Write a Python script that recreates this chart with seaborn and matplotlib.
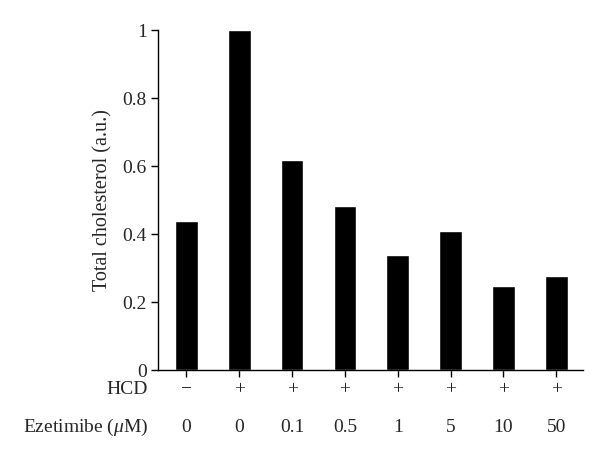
import matplotlib
matplotlib.use('Agg')
import matplotlib.pyplot as plt
import matplotlib.transforms as mtransforms
import seaborn as sns
import pandas as pd

# data
groups = ['g1', 'g2', 'g3', 'g4', 'g5', 'g6', 'g7', 'g8']
cholesterol = [0.439, 1.0, 0.618, 0.482, 0.338, 0.408, 0.248, 0.276]
hcd = ['\u2212', '+', '+', '+', '+', '+', '+', '+']
ezetimibe = ['0', '0', '0.1', '0.5', '1', '5', '10', '50']

df = pd.DataFrame({'group': groups, 'chol': cholesterol})

sns.set_style('ticks')
plt.rcParams['font.family'] = ['Liberation Serif', 'DejaVu Serif']
plt.rcParams['mathtext.fontset'] = 'custom'
plt.rcParams['mathtext.it'] = 'Liberation Serif:italic'
plt.rcParams['mathtext.rm'] = 'Liberation Serif'

fig = plt.figure(figsize=(6, 4.57), dpi=100)
ax = fig.add_axes([0.264, 0.19, 0.708, 0.744])

sns.barplot(data=df, x='group', y='chol', color='black', width=0.43,
            saturation=1, ax=ax)

ax.set_xlim(-0.53, 7.51)
ax.set_ylim(0, 1)
ax.set_yticks([0, 0.2, 0.4, 0.6, 0.8, 1])
ax.set_yticklabels(['0', '0.2', '0.4', '0.6', '0.8', '1'])
ax.set_xticks(range(len(groups)))
ax.set_xlabel('')
ax.set_ylabel('Total cholesterol (a.u.)', fontsize=14.5, labelpad=7)
ax.tick_params(axis='both', which='major', direction='out', length=5,
               width=1, color='black', labelsize=14, pad=3.5)
ax.tick_params(axis='x', which='major', bottom=True, labelbottom=False)
for side in ['top', 'right']:
    ax.spines[side].set_visible(False)
for side in ['left', 'bottom']:
    ax.spines[side].set_linewidth(1)
    ax.spines[side].set_color('black')
for p in ax.patches:
    p.set_clip_on(False)

# two rows of condition labels under the bars
trans = mtransforms.blended_transform_factory(ax.transData, fig.transFigure)
for i in range(len(groups)):
    ax.text(i, 1 - 390 / 457, hcd[i], transform=trans, ha='center',
            va='center', fontsize=14)
    ax.text(i, 1 - 427 / 457, ezetimibe[i], transform=trans, ha='center',
            va='center', fontsize=14)
fig.text(148 / 600, 1 - 390 / 457, 'HCD', ha='right', va='center', fontsize=14)
fig.text(148 / 600, 1 - 427 / 457, r'Ezetimibe ($\mathit{\mu}$M)', ha='right',
         va='center', fontsize=14)

fig.savefig('out.png', dpi=100)
